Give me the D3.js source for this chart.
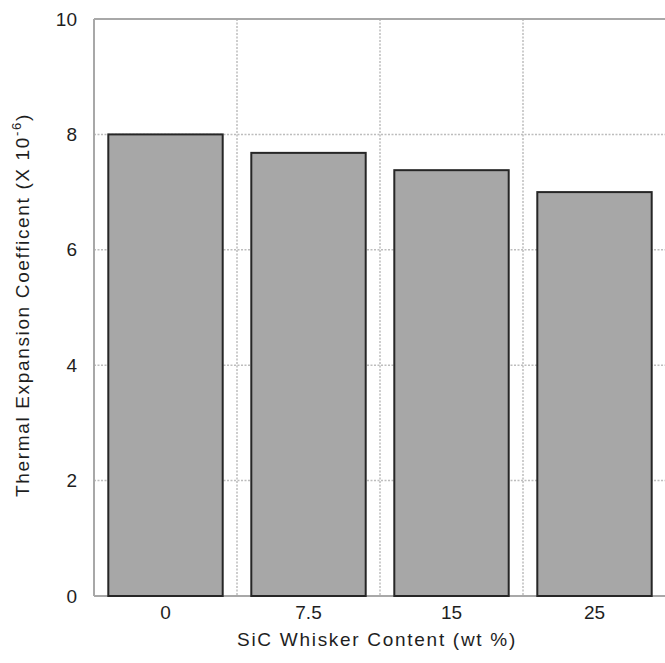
<!DOCTYPE html>
<html><head><meta charset="utf-8">
<script src="https://cdn.jsdelivr.net/npm/d3@7"></script>
<style>body{margin:0;background:#fff}</style>
</head><body>
<svg id="c" width="665" height="663"></svg>
<script>
const categories = ["0", "7.5", "15", "25"];
const values = [8.0, 7.68, 7.38, 7.0];
const yTicks = [0, 2, 4, 6, 8, 10];

const svg = d3.select("#c");
const m = {left: 94, top: 19, right: 666, bottom: 596};
const x = d3.scaleBand().domain(categories).range([m.left, m.right]).paddingInner(0.2).paddingOuter(0.1);
const y = d3.scaleLinear().domain([0, 10]).range([m.bottom, m.top]);
const font = "Liberation Sans, Arial, sans-serif";
const ink = "#1e1e1e";

// grid
const bounds = d3.range(1, categories.length).map(i => m.left + i * (m.right - m.left) / categories.length);
svg.append("g").selectAll("line").data(bounds).join("line")
  .attr("x1", d => d).attr("x2", d => d).attr("y1", m.top).attr("y2", m.bottom)
  .attr("stroke", "#bdbdbd").attr("stroke-width", 1.5).attr("stroke-dasharray", "2,1.5");
svg.append("g").selectAll("line").data(yTicks.filter(d => d > 0 && d < 10)).join("line")
  .attr("x1", m.left).attr("x2", m.right).attr("y1", d => y(d)).attr("y2", d => y(d))
  .attr("stroke", "#bdbdbd").attr("stroke-width", 1.5).attr("stroke-dasharray", "2,1.5");

// frame
svg.append("line").attr("x1", m.left).attr("x2", m.right).attr("y1", m.top).attr("y2", m.top).attr("stroke", "#a8a8a8").attr("stroke-width", 2);
svg.append("line").attr("x1", m.left).attr("x2", m.left).attr("y1", m.top).attr("y2", m.bottom).attr("stroke", "#a8a8a8").attr("stroke-width", 2);
svg.append("line").attr("x1", m.left).attr("x2", m.right).attr("y1", m.bottom).attr("y2", m.bottom).attr("stroke", "#a8a8a8").attr("stroke-width", 2);

// bars
svg.append("g").selectAll("rect").data(values).join("rect")
  .attr("x", (d, i) => x(categories[i]))
  .attr("width", x.bandwidth())
  .attr("y", d => y(d))
  .attr("height", d => y(0) - y(d))
  .attr("fill", "#a7a7a7").attr("stroke", "#262626").attr("stroke-width", 2);

// y axis labels
const yAxis = d3.axisLeft(y).tickValues(yTicks).tickFormat(d3.format("d")).tickSize(0).tickPadding(17);
const ya = svg.append("g").attr("transform", `translate(${m.left},0)`).call(yAxis);
ya.select(".domain").remove();
ya.selectAll("text").attr("font-family", font).attr("font-size", 19).attr("fill", ink);

// x axis labels
const xAxis = d3.axisBottom(x).tickSize(0).tickPadding(10);
const xa = svg.append("g").attr("transform", `translate(0,${m.bottom})`).call(xAxis);
xa.select(".domain").remove();
xa.selectAll("text").attr("font-family", font).attr("font-size", 19).attr("fill", ink);

function fit(sel, target) {
  const n = sel.text().length;
  const w = sel.node().getComputedTextLength();
  sel.attr("letter-spacing", ((target - w) / n).toFixed(2));
}

// titles
const xt = svg.append("text").attr("x", 377).attr("y", 646).attr("text-anchor", "middle")
  .attr("font-family", font).attr("font-size", 19).attr("fill", ink)
  .text("SiC Whisker Content (wt %)");
fit(xt, 280);

const yt = svg.append("text").attr("transform", "translate(29,305) rotate(-90)").attr("text-anchor", "middle")
  .attr("font-family", font).attr("font-size", 19).attr("fill", ink);
yt.append("tspan").text("Thermal Expansion Coefficent (X 10");
yt.append("tspan").attr("dy", -8).attr("font-size", 13).text("-6");
yt.append("tspan").attr("dy", 8).text(")");
fit(yt, 384);
</script>
</body></html>
